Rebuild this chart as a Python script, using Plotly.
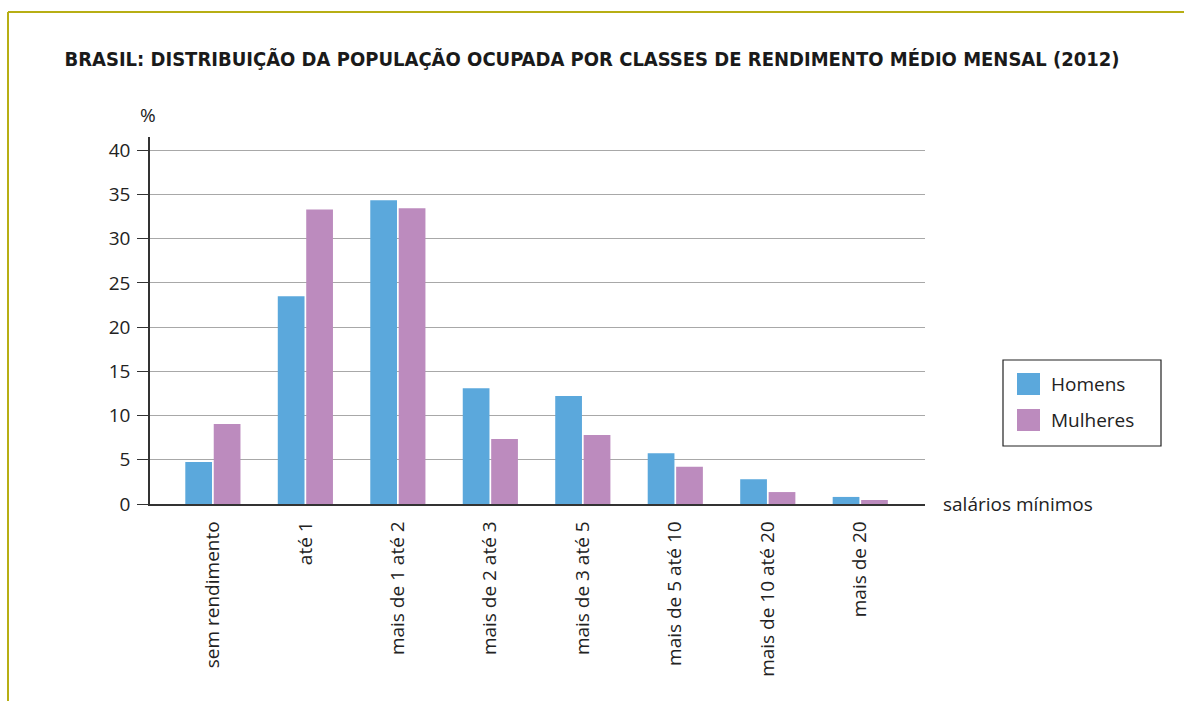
import plotly.graph_objects as go

categories = ["sem rendimento", "até 1", "mais de 1 até 2", "mais de 2 até 3",
              "mais de 3 até 5", "mais de 5 até 10", "mais de 10 até 20", "mais de 20"]
homens = [4.75, 23.5, 34.35, 13.1, 12.2, 5.75, 2.8, 0.8]
mulheres = [9.05, 33.3, 33.45, 7.35, 7.8, 4.2, 1.35, 0.45]
series_names = ["Homens", "Mulheres"]
colors = ["#5BA8DC", "#BC8BBE"]
y_ticks = [0, 5, 10, 15, 20, 25, 30, 35, 40]
title_text = "BRASIL: DISTRIBUIÇÃO DA POPULAÇÃO OCUPADA POR CLASSES DE RENDIMENTO MÉDIO MENSAL (2012)"

W, H = 1184, 701
L, R, T, B = 150, 925, 137, 504
FONT = "'Open Sans', Lato, sans-serif"
FS = 19


def px(x):
    return (x - L) / (R - L)


def py(y):
    return (B - y) / (B - T)


fig = go.Figure()
for name, vals, col in zip(series_names, [homens, mulheres], colors):
    fig.add_trace(go.Bar(x=categories, y=vals, name=name, marker=dict(color=col, line=dict(width=0)),
                         showlegend=False))

shapes = []
annotations = []
# frame border (olive)
shapes.append(dict(type="line", xref="paper", yref="paper", x0=px(8), x1=px(1190), y0=py(12), y1=py(12),
                   line=dict(color="#B7AE14", width=2)))
shapes.append(dict(type="line", xref="paper", yref="paper", x0=px(8), x1=px(8), y0=py(12), y1=py(710),
                   line=dict(color="#B7AE14", width=2)))
# legend box
shapes.append(dict(type="rect", xref="paper", yref="paper", x0=px(1003), x1=px(1161), y0=py(360), y1=py(446),
                   line=dict(color="#222", width=1.2), fillcolor="white"))
for i, (name, col) in enumerate(zip(series_names, colors)):
    yc = 384 + 36 * i
    shapes.append(dict(type="rect", xref="paper", yref="paper", x0=px(1017), x1=px(1040),
                       y0=py(yc - 11), y1=py(yc + 11), line=dict(width=0), fillcolor=col))
    annotations.append(dict(text=name, xref="paper", yref="paper", x=px(1049), y=py(yc), xanchor="left",
                            yanchor="middle", showarrow=False, font=dict(size=FS, color="#222", family=FONT)))

annotations.append(dict(text="%", xref="paper", yref="paper", x=px(148), y=py(115), xanchor="center",
                        yanchor="middle", showarrow=False, font=dict(size=FS, color="#222", family=FONT)))
annotations.append(dict(text="salários mínimos", xref="paper", yref="y", x=px(941), y=0, xanchor="left",
                        yanchor="middle", showarrow=False, font=dict(size=FS, color="#222", family=FONT)))

fig.update_layout(
    width=W, height=H,
    margin=dict(l=L, r=W - R, t=T, b=H - B, pad=0),
    paper_bgcolor="white", plot_bgcolor="white",
    title=dict(text=title_text, x=0.5, xanchor="center", y=1 - 59 / H, yanchor="middle",
               font=dict(family="'DejaVu Sans Condensed', 'Liberation Sans Narrow', sans-serif", size=20,
                         color="#1a1a1a", weight="bold")),
    barmode="group", bargap=0.385, bargroupgap=0.06,
    shapes=shapes, annotations=annotations,
    xaxis=dict(range=[-0.68, 7.70], tickangle=-90, showgrid=False, showline=True, linecolor="#333",
               linewidth=1.5, ticks="", ticklabelstandoff=8,
               tickfont=dict(family=FONT, size=FS, color="#222"), fixedrange=True),
    yaxis=dict(range=[0, 41.5], tickvals=y_ticks, showgrid=True, gridcolor="#A8A8A8", gridwidth=1.3,
               showline=True, linecolor="#333", linewidth=1.5, ticks="outside", ticklen=11,
               tickcolor="#333", tickwidth=1.2, ticklabelstandoff=3, zeroline=False,
               tickfont=dict(family=FONT, size=FS, color="#222")),
)

fig.write_html("out.html", config={"displayModeBar": False},
               post_script="document.body.style.margin='0';")
